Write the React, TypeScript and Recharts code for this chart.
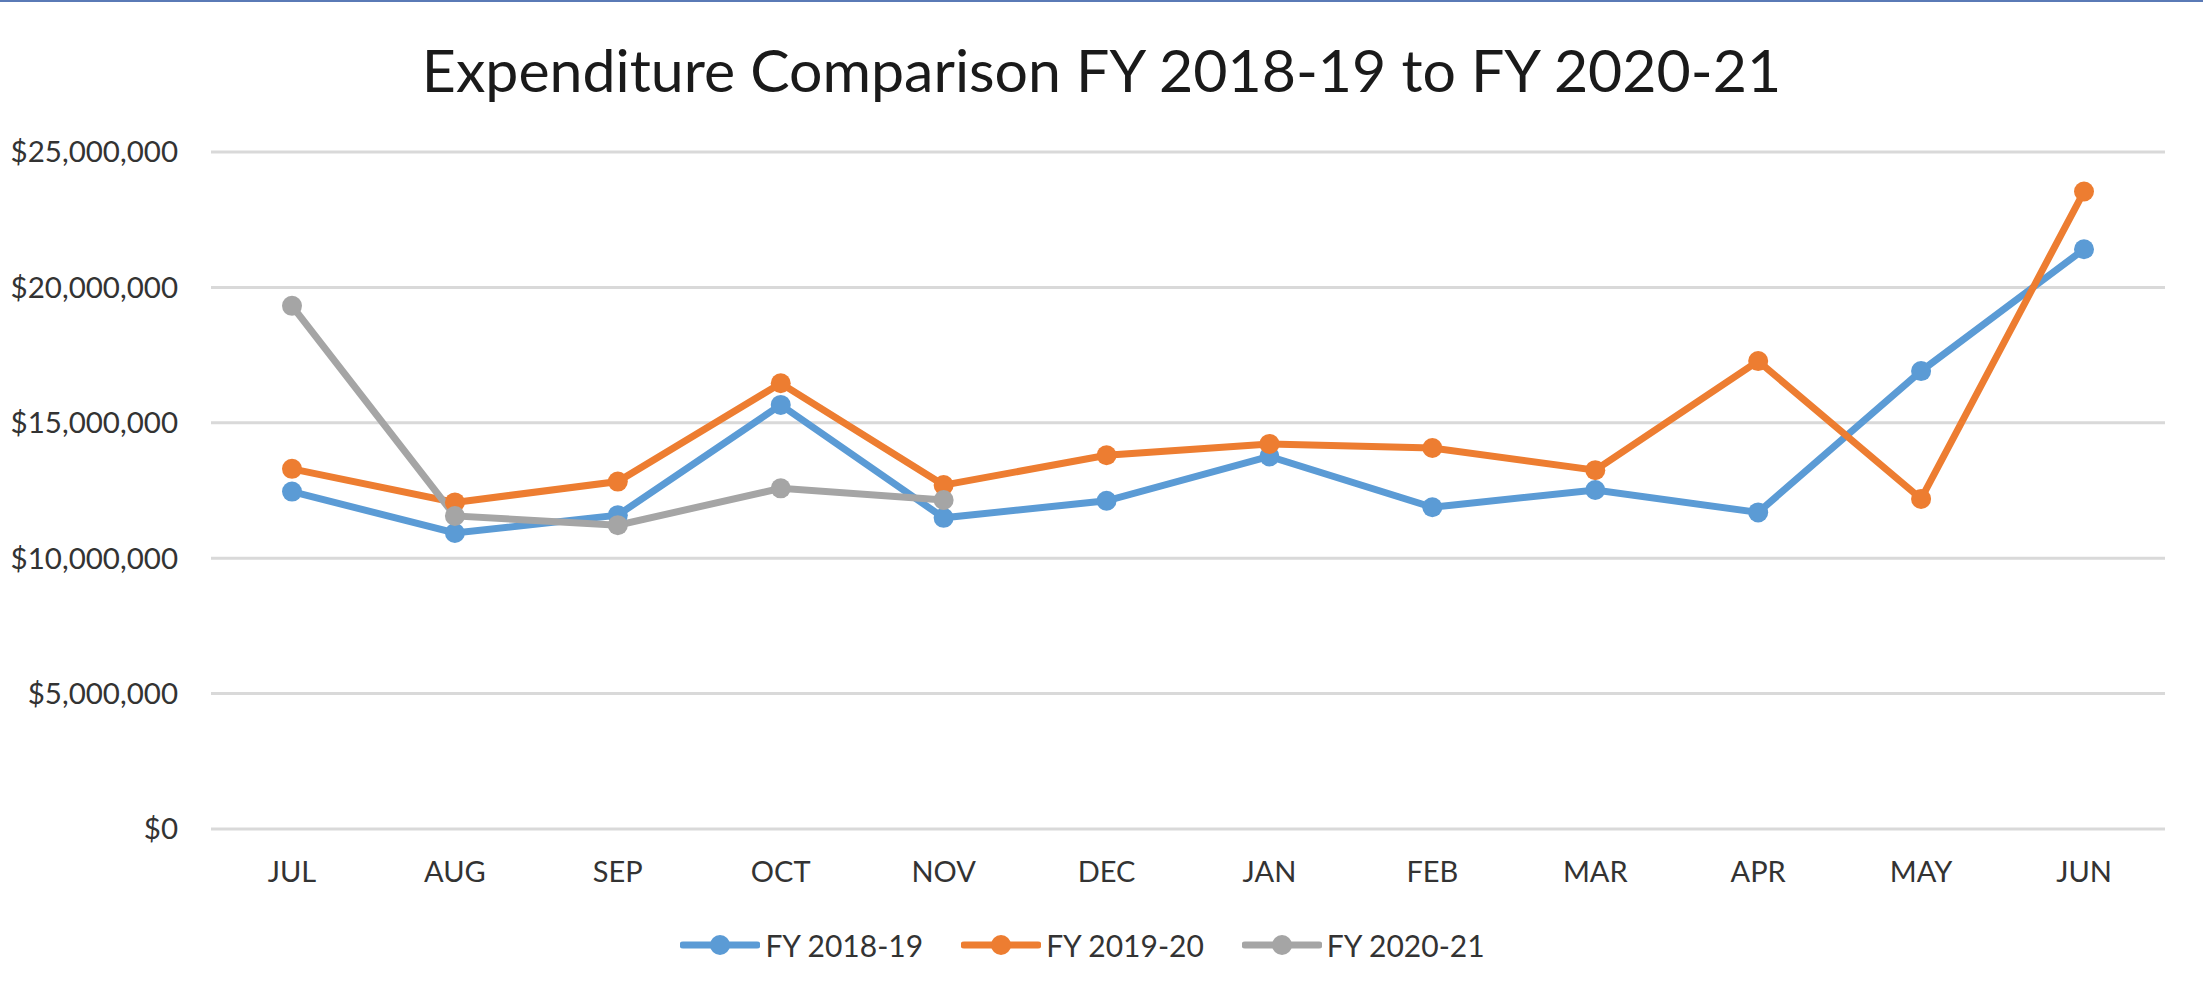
import React from "react";
import { LineChart, Line, XAxis, YAxis, CartesianGrid, Legend } from "recharts";

const months = ["JUL", "AUG", "SEP", "OCT", "NOV", "DEC", "JAN", "FEB", "MAR", "APR", "MAY", "JUN"];
const fy1819 = [12.46, 10.93, 11.59, 15.66, 11.49, 12.12, 13.76, 11.88, 12.52, 11.69, 16.91, 21.41];
const fy1920 = [13.3, 12.06, 12.83, 16.46, 12.7, 13.8, 14.22, 14.07, 13.25, 17.28, 12.19, 23.54];
const fy2021 = [19.32, 11.56, 11.22, 12.58, 12.15, null, null, null, null, null, null, null];
const yTicks = [0, 5000000, 10000000, 15000000, 20000000, 25000000];
const seriesNames = ["FY 2018-19", "FY 2019-20", "FY 2020-21"];
const colors = ["#5B9BD5", "#ED7D31", "#A5A5A5"];

const data = months.map((m, i) => ({
  month: m,
  a: fy1819[i] * 1e6,
  b: fy1920[i] * 1e6,
  c: fy2021[i] == null ? null : (fy2021[i] as number) * 1e6,
}));

const FONT = "Lato, 'Open Sans', sans-serif";

const fmt = (v: number) => "$" + v.toLocaleString("en-US");

const renderLegend = (props: any) => {
  const payload = props.payload || [];
  return (
    <div style={{ display: "flex", justifyContent: "center", alignItems: "center", height: 62, fontFamily: FONT }}>
      {payload.map((p: any, i: number) => (
        <div key={i} style={{ display: "flex", alignItems: "center", marginRight: i < payload.length - 1 ? 38 : 0 }}>
          <svg width={80} height={22} style={{ display: "block" }}>
            <line x1={3} y1={11} x2={77} y2={11} stroke={p.color} strokeWidth={7} strokeLinecap="round" />
            <circle cx={40} cy={11} r={10} fill={p.color} />
          </svg>
          <span style={{ marginLeft: 5, fontSize: 30, color: "#333", whiteSpace: "nowrap" }}>{p.value}</span>
        </div>
      ))}
    </div>
  );
};

export default function App() {
  return (
    <div style={{ position: "absolute", left: 0, top: 0, width: 2203, height: 984, background: "#fff", overflow: "hidden" }}>
      <div style={{ position: "absolute", left: 0, top: 0, width: 2203, height: 2, background: "#5A7AB6" }} />
      <div
        style={{
          position: "absolute",
          left: 0,
          top: 34,
          width: 2203,
          textAlign: "center",
          fontFamily: FONT,
          fontSize: 59,
          lineHeight: "72px",
          color: "#1a1a1a",
        }}
      >
        Expenditure Comparison FY 2018-19 to FY 2020-21
      </div>
      <LineChart width={2203} height={984} data={data} margin={{ top: 152, right: 38, bottom: 8, left: 0 }}>
        <CartesianGrid vertical={false} stroke="#D9D9D9" strokeWidth={3} />
        <XAxis
          dataKey="month"
          axisLine={false}
          tickLine={false}
          tickSize={0}
          tickMargin={32}
          height={85}
          interval={0}
          padding={{ left: 81, right: 81 }}
          tick={{ fill: "#333", fontSize: 29, fontFamily: FONT }}
        />
        <YAxis
          domain={[0, 25000000]}
          ticks={yTicks}
          tickFormatter={fmt}
          axisLine={false}
          tickLine={false}
          tickSize={0}
          tickMargin={33}
          width={211}
          tick={{ fill: "#333", fontSize: 29.5, fontFamily: FONT }}
        />
        <Legend verticalAlign="bottom" height={62} content={renderLegend} />
        <Line name={seriesNames[0]} dataKey="a" stroke={colors[0]} strokeWidth={7} dot={{ r: 10, fill: colors[0], stroke: "none" }} isAnimationActive={false} />
        <Line name={seriesNames[1]} dataKey="b" stroke={colors[1]} strokeWidth={7} dot={{ r: 10, fill: colors[1], stroke: "none" }} isAnimationActive={false} />
        <Line name={seriesNames[2]} dataKey="c" stroke={colors[2]} strokeWidth={7} dot={{ r: 10, fill: colors[2], stroke: "none" }} isAnimationActive={false} />
      </LineChart>
    </div>
  );
}
